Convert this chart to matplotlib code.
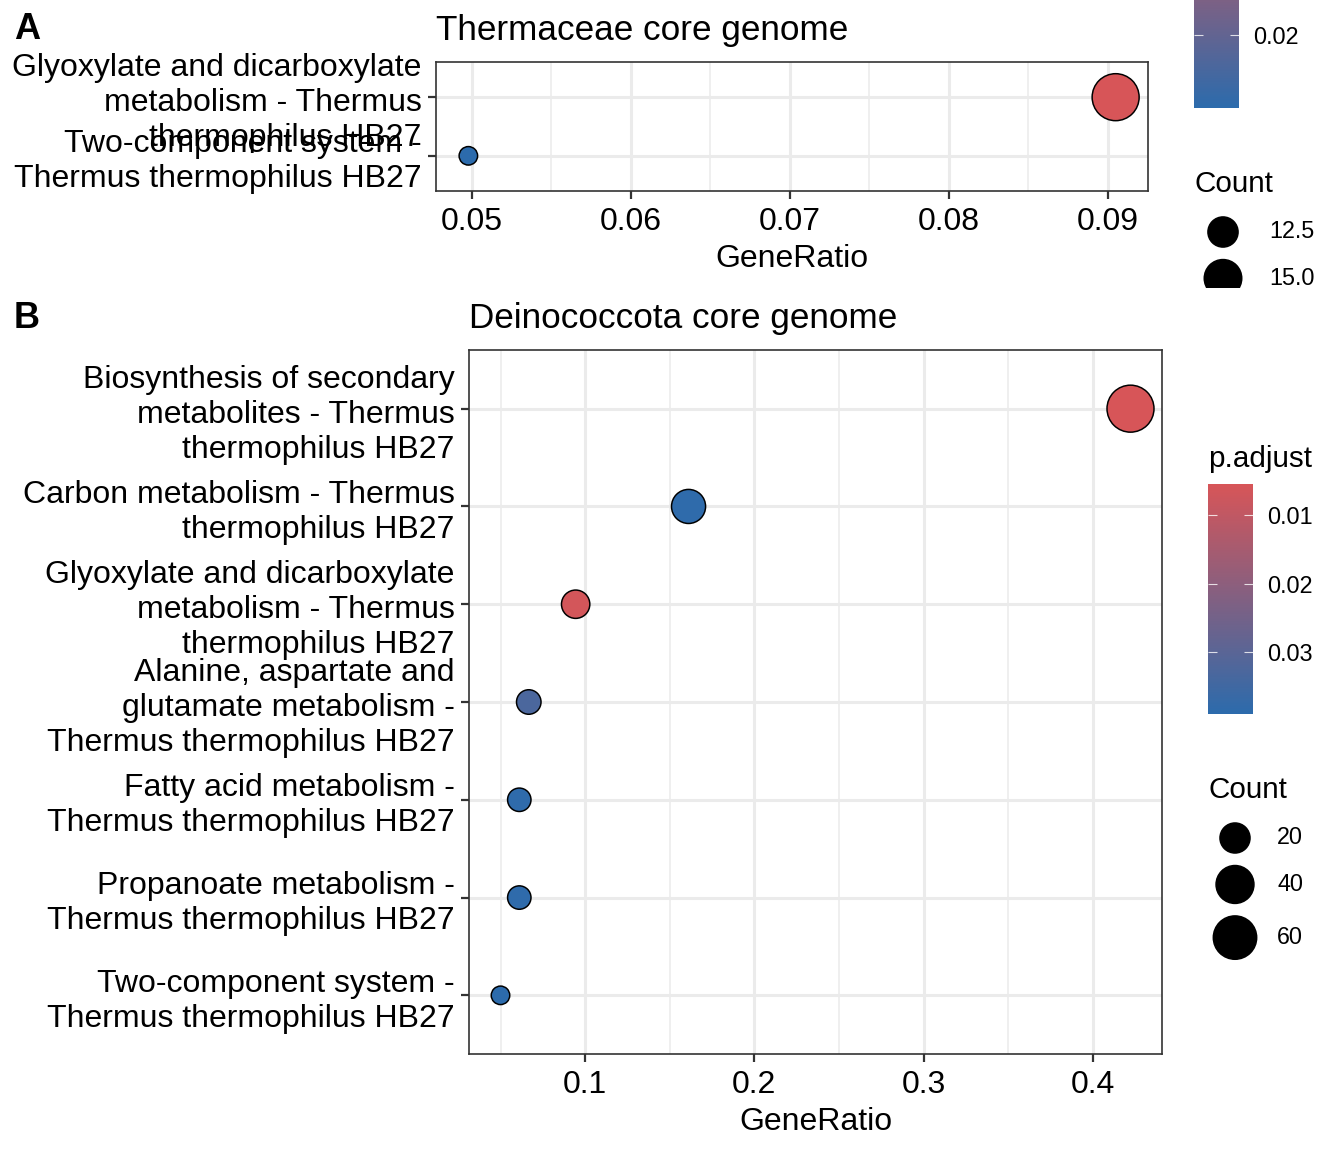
import textwrap
import numpy as np
import matplotlib
matplotlib.use('Agg')
import matplotlib.pyplot as plt
from matplotlib.colors import LinearSegmentedColormap, Normalize
from matplotlib.cm import ScalarMappable
from matplotlib.patches import Rectangle
from matplotlib.ticker import MultipleLocator

plt.rcParams['font.family'] = ['Liberation Sans', 'DejaVu Sans']

# panel A: Thermaceae core genome
terms_a = ['Glyoxylate and dicarboxylate metabolism - Thermus thermophilus HB27',
           'Two-component system - Thermus thermophilus HB27']
ratio_a = [0.0905, 0.0498]
count_a = [20, 11]
padj_a = [0.0050, 0.0270]
cbar_ticks_a = [0.02]          # only tick that stays inside the figure
count_breaks_a = [12.5, 15.0, 17.5, 20.0]

# panel B: Deinococcota core genome
terms_b = ['Biosynthesis of secondary metabolites - Thermus thermophilus HB27',
           'Carbon metabolism - Thermus thermophilus HB27',
           'Glyoxylate and dicarboxylate metabolism - Thermus thermophilus HB27',
           'Alanine, aspartate and glutamate metabolism - Thermus thermophilus HB27',
           'Fatty acid metabolism - Thermus thermophilus HB27',
           'Propanoate metabolism - Thermus thermophilus HB27',
           'Two-component system - Thermus thermophilus HB27']
ratio_b = [0.4222, 0.1611, 0.0944, 0.0667, 0.0611, 0.0611, 0.0500]
count_b = [76, 29, 17, 12, 11, 11, 9]
padj_b = [0.0054, 0.0385, 0.0062, 0.0330, 0.0385, 0.0385, 0.0391]
cbar_ticks_b = [0.01, 0.02, 0.03]
count_breaks_b = [20, 40, 60]

W, H = 1344, 1152
DPI = 100
fig = plt.figure(figsize=(W / DPI, H / DPI), dpi=DPI)

cmap = LinearSegmentedColormap.from_list('padj', ['#D75558', '#2C6BAC'])

DMIN, DMAX = 20.0, 48.5   # dot diameter in px (ggplot-like area scale)
STROKE = 1.5
AXIS_FS = 23
TITLE_FS = 25.3
LEG_FS = 16.8
LEG_TITLE_FS = 21.3


def dot_size(c, cmin, cmax):
    d = DMIN + (DMAX - DMIN) * np.sqrt((np.asarray(c) - cmin) / (cmax - cmin))
    return ((d - STROKE) * 72 / DPI) ** 2


def px_axes(l, t, r, b):
    return [l / W, 1 - b / H, (r - l) / W, (b - t) / H]


def dotplot(ax, terms, ratio, count, padj, title, step):
    n = len(terms)
    y = np.arange(n, 0, -1)
    norm = Normalize(min(padj), max(padj))
    ax.scatter(ratio, y, s=dot_size(count, min(count), max(count)),
               c=padj, cmap=cmap, norm=norm, edgecolors='black',
               linewidths=STROKE * 0.72, zorder=3)
    lo, hi = min(ratio), max(ratio)
    pad = (hi - lo) * 0.05
    ax.set_xlim(lo - pad, hi + pad)
    ax.set_ylim(0.4, n + 0.6)
    ax.set_yticks(y)
    ax.set_yticklabels([textwrap.fill(t, 29, break_on_hyphens=False) for t in terms],
                       linespacing=1.22)
    ax.xaxis.set_major_locator(MultipleLocator(step))
    ax.xaxis.set_minor_locator(MultipleLocator(step / 2))
    ax.set_axisbelow(True)
    ax.grid(which='major', color='#EBEBEB', lw=2.2)
    ax.grid(which='minor', axis='x', color='#EBEBEB', lw=1.1)
    ax.tick_params(which='major', length=5.8, width=1.6, color='#333333',
                   labelsize=AXIS_FS, labelcolor='black')
    ax.tick_params(axis='x', which='minor', length=0)
    ax.tick_params(axis='x', pad=5.5)
    ax.tick_params(axis='y', pad=4.5)
    for sp in ax.spines.values():
        sp.set_color('#333333')
        sp.set_linewidth(1.2)
    ax.set_xlabel('GeneRatio', fontsize=AXIS_FS, labelpad=5)
    ax.set_title(title, loc='left', fontsize=TITLE_FS, pad=16)
    return norm


def colorbar(rect, norm, ticks):
    cax = fig.add_axes(rect)
    cb = fig.colorbar(ScalarMappable(norm=norm, cmap=cmap), cax=cax)
    cb.outline.set_visible(False)
    cax.invert_yaxis()
    cb.set_ticks(ticks)
    cb.set_ticklabels([f'{t:.2f}' for t in ticks])
    cax.yaxis.set_ticks_position('both')
    cax.tick_params(direction='in', length=6.5, width=0.8, color=(1, 1, 1, 0.8),
                    labelsize=LEG_FS, pad=10, left=True, right=True,
                    labelleft=False, labelright=True)
    return cax


ax_a = fig.add_axes(px_axes(436, 62, 1148, 191))
norm_a = dotplot(ax_a, terms_a, ratio_a, count_a, padj_a, 'Thermaceae core genome', 0.01)

ax_b = fig.add_axes(px_axes(469, 350, 1162, 1054))
norm_b = dotplot(ax_b, terms_b, ratio_b, count_b, padj_b, 'Deinococcota core genome', 0.1)

fig.text(14 / W, 1 - 39 / H, 'A', fontsize=26, fontweight='bold', va='baseline')
fig.text(14 / W, 1 - 328 / H, 'B', fontsize=26, fontweight='bold', va='baseline')

# colour legends (panel A's legend runs off the top, as in the original)
colorbar(px_axes(1194, -121, 1239, 108), norm_a, cbar_ticks_a)
colorbar(px_axes(1208, 484, 1253, 714), norm_b, cbar_ticks_b)
fig.text(1208 / W, 1 - 467 / H, 'p.adjust', fontsize=LEG_TITLE_FS, va='baseline')

# size legends drawn on a pixel-coordinate overlay
ov = fig.add_axes([0, 0, 1, 1])
ov.set_xlim(0, W)
ov.set_ylim(H, 0)
ov.axis('off')


def size_legend(x_title, y_title, x_key, y_first, x_lab, breaks, cmin, cmax, clip=None):
    ov.text(x_title, y_title, 'Count', fontsize=LEG_TITLE_FS, va='baseline')
    d = DMIN + (DMAX - DMIN) * np.sqrt((np.asarray(breaks) - cmin) / (cmax - cmin))
    ys = [y_first]
    for i in range(1, len(breaks)):
        ys.append(ys[-1] + (d[i - 1] + d[i]) / 2 + 11)
    sc = ov.scatter([x_key] * len(breaks), ys, s=dot_size(breaks, cmin, cmax),
                    c='black', edgecolors='black', linewidths=STROKE * 0.72)
    labs = []
    for b, yy in zip(breaks, ys):
        txt = f'{b:.1f}' if isinstance(b, float) else str(b)
        labs.append(ov.text(x_lab, yy, txt, fontsize=LEG_FS, va='center'))
    if clip is not None:
        rect = Rectangle((0, 0), W, clip, transform=ov.transData)
        sc.set_clip_path(rect)
        for t in labs:
            t.set_clip_on(True)
            t.set_clip_path(rect)


size_legend(1194, 192, 1223, 232, 1269, count_breaks_a, min(count_a), max(count_a), clip=288)
size_legend(1208, 798, 1235, 838, 1277, count_breaks_b, min(count_b), max(count_b))

fig.savefig('out.png', dpi=DPI)
